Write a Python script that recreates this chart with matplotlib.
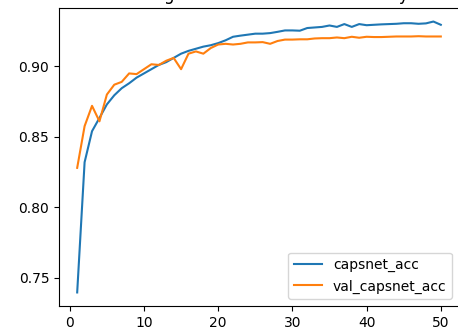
import matplotlib
matplotlib.use("Agg")
import matplotlib.pyplot as plt
from matplotlib.ticker import MultipleLocator

epochs = list(range(1, 51))

capsnet_acc = [
    0.7396, 0.8320, 0.8540, 0.8634, 0.8730, 0.8795, 0.8845, 0.8880, 0.8920, 0.8950,
    0.8980, 0.9010, 0.9030, 0.9060, 0.9090, 0.9110, 0.9125, 0.9140, 0.9150, 0.9165,
    0.9185, 0.9210, 0.9218, 0.9225, 0.9232, 0.9232, 0.9236, 0.9245, 0.9255, 0.9255,
    0.9253, 0.9272, 0.9276, 0.9280, 0.9290, 0.9280, 0.9300, 0.9280, 0.9300, 0.9292,
    0.9295, 0.9298, 0.9300, 0.9302, 0.9306, 0.9306, 0.9302, 0.9305, 0.9318, 0.9295,
]

val_capsnet_acc = [
    0.8280, 0.8576, 0.8720, 0.8610, 0.8800, 0.8870, 0.8890, 0.8950, 0.8945, 0.8980,
    0.9015, 0.9010, 0.9040, 0.9060, 0.8980, 0.9090, 0.9106, 0.9090, 0.9130, 0.9155,
    0.9160, 0.9155, 0.9160, 0.9170, 0.9170, 0.9172, 0.9160, 0.9180, 0.9190, 0.9190,
    0.9192, 0.9192, 0.9198, 0.9200, 0.9200, 0.9205, 0.9200, 0.9210, 0.9203, 0.9210,
    0.9208, 0.9208, 0.9210, 0.9212, 0.9212, 0.9212, 0.9214, 0.9212, 0.9212, 0.9212,
]

fig = plt.figure(figsize=(4.58, 3.32), dpi=100)
# the reference is a cropped screenshot: title above the top edge, right spine just off the edge
ax = fig.add_axes([59 / 458, 26 / 332, 400 / 458, 298 / 332])

ax.plot(epochs, capsnet_acc, label='capsnet_acc')
ax.plot(epochs, val_capsnet_acc, label='val_capsnet_acc')
ax.yaxis.set_major_locator(MultipleLocator(0.05))
ax.set_title('Training and validation set accuracy')
ax.legend(loc='lower right')

fig.savefig('out.png', dpi=100)
